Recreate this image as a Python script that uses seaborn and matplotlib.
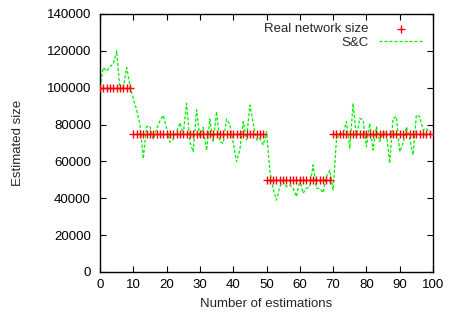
import matplotlib
matplotlib.use("Agg")
import matplotlib.pyplot as plt
import seaborn as sns
import numpy as np

# estimation index
steps = list(range(100))

# real network size per estimation
real_size = [100000] * 10 + [75000] * 40 + [50000] * 20 + [75000] * 30

# S&C estimates
sc_estimate = [
    100500, 111000, 109000, 111500, 113000, 120000, 99000, 100000, 111000, 101000,
    94000, 88000, 80000, 61500, 79000, 79000, 72000, 77500, 82000, 85000,
    78000, 70500, 72000, 76000, 81000, 75000, 91500, 70500, 65300, 88000,
    73000, 78500, 66000, 83000, 70500, 87000, 70700, 69800, 83000, 80000,
    70000, 59900, 66200, 81600, 71600, 90600, 80700, 71600, 72500, 68900,
    76100, 55000, 45000, 39000, 46300, 49000, 46300, 47200, 45400, 40900,
    49900, 42700, 45400, 46300, 58100, 45400, 45400, 43000, 51700, 55300,
    44500, 71600, 75200, 75200, 81600, 67100, 91500, 73400, 83400, 82500,
    68000, 80700, 66200, 78800, 70700, 76100, 75200, 59000, 83400, 84300,
    65300, 69800, 78800, 72500, 63500, 85200, 84300, 77000, 78000, 75200,
]

x_ticks = list(range(0, 101, 10))
y_ticks = list(range(0, 140001, 20000))

sns.set_style("ticks")
plt.rcParams['font.family'] = ['Liberation Sans', 'DejaVu Sans']

fig = plt.figure(figsize=(4.49, 3.18), dpi=100)
ax = fig.add_axes([0.2227, 0.1447, 0.7417, 0.8113])

sns.scatterplot(x=steps, y=real_size, marker='+', color='red', s=26,
                linewidth=1.0, ax=ax, label='Real network size', zorder=3)
sns.lineplot(x=steps, y=sc_estimate, color='#00ee00', linewidth=0.9,
             dashes=False, ax=ax, label='S&C', zorder=2)
ax.lines[-1].set_linestyle((0, (2.5, 1.5)))

ax.set_xlim(0, 100)
ax.set_ylim(0, 140000)
ax.set_xticks(x_ticks)
ax.set_yticks(y_ticks)
ax.tick_params(direction='in', length=4, width=0.8, top=True, right=True,
               labelsize=9.5, colors='black')
ax.tick_params(axis='y', pad=6.5)
ax.tick_params(axis='x', pad=5)
for s in ax.spines.values():
    s.set_linewidth(1.0)
    s.set_color('black')
    s.set_visible(True)

ax.set_xlabel('Number of estimations', fontsize=9.5, labelpad=5)
ax.set_ylabel('Estimated size', fontsize=9.5, labelpad=16)

leg = ax.legend(loc='upper right', frameon=False, markerfirst=False,
                fontsize=9.5, handlelength=3.4, borderaxespad=0.3,
                handletextpad=0.8, labelspacing=0.1)
leg.legend_handles[1].set_linestyle((0, (2.5, 1.5)))

fig.savefig('out.png', dpi=100)
